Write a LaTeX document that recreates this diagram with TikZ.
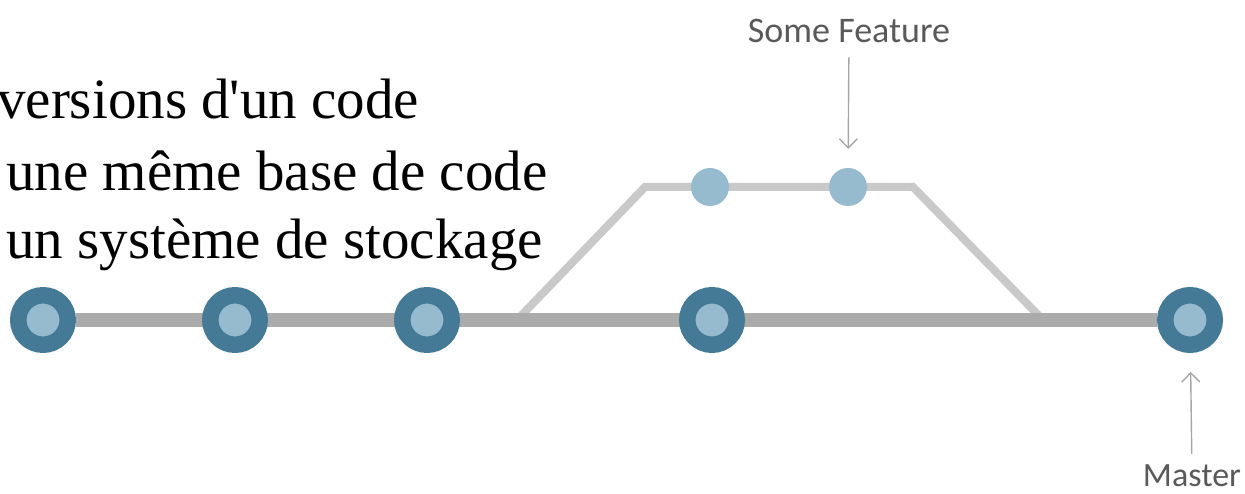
\documentclass[tikz,border=0pt]{standalone}
\usepackage{fontspec}
\setmainfont{Liberation Serif}
\newfontfamily\labelfont{Carlito}
\usetikzlibrary{arrows.meta,backgrounds}
\definecolor{CommitDark}{HTML}{457A96}
\definecolor{CommitLight}{HTML}{97BBCE}
\definecolor{TrunkGray}{HTML}{ABABAB}
\definecolor{BranchGray}{HTML}{C9C9C9}
\definecolor{LabelGray}{HTML}{595959}
\definecolor{PointerGray}{HTML}{A6A6A6}

\begin{document}
\begin{tikzpicture}[x=1pt,y=-1pt,
  commit/.style={circle,inner sep=0pt,minimum size=49.5pt,line width=16.5pt,
    draw=CommitDark,fill=CommitLight},
  feat/.style={circle,inner sep=0pt,minimum size=38pt,fill=CommitLight},
  slide/.style={anchor=base west,inner sep=0pt,font=\fontsize{57}{68}\selectfont},
  tag/.style={inner sep=0pt,text=LabelGray,font=\labelfont\fontsize{36}{40}\selectfont},
  pointer/.style={draw=PointerGray,line width=1.4pt,-{Straight Barb[length=9pt,width=18pt]}}]
  \useasboundingbox (0,0) rectangle (1245,494);
  % slide text, cut at the left edge
  \node[slide] (l1) at (-3,119) {versions d\textquotesingle un code};
  \node[slide] (l2) at (6,191) {une même base de code};
  \node[slide] (l3) at (6,259) {un système de stockage};
  % master
  \node[commit] (c1) at (43,320) {};
  \node[commit] (c2) at (235,320) {};
  \node[commit] (c3) at (427,320) {};
  \node[commit] (c4) at (712,320) {};
  \node[commit] (c5) at (1190,320) {};
  \coordinate (fork) at (517,320);
  \coordinate (merge) at (1043,320);
  \coordinate (b1) at (645,187);
  \coordinate (b2) at (913,187);
  % feature branch
  \node[feat] (f1) at (710,187) {};
  \node[feat] (f2) at (848,187) {};
  \begin{pgfonlayer}{background}
    \draw[BranchGray,line width=8pt,line join=miter] (fork) -- (b1) -- (b2) -- (merge);
    \draw[TrunkGray,line width=14pt] (c1) -- (c5);
  \end{pgfonlayer}
  % labels
  \node[tag,anchor=base] (feature) at (849,43) {Some Feature};
  \node[tag,anchor=base,font=\labelfont\fontsize{34}{38}\selectfont] (master) at (1192,486) {Master};
  \draw[pointer,shorten <=14pt,shorten >=19pt] (feature) -- (f2);
  \draw[pointer,shorten <=10pt,shorten >=19pt] (master) -- (c5);
\end{tikzpicture}
\end{document}
